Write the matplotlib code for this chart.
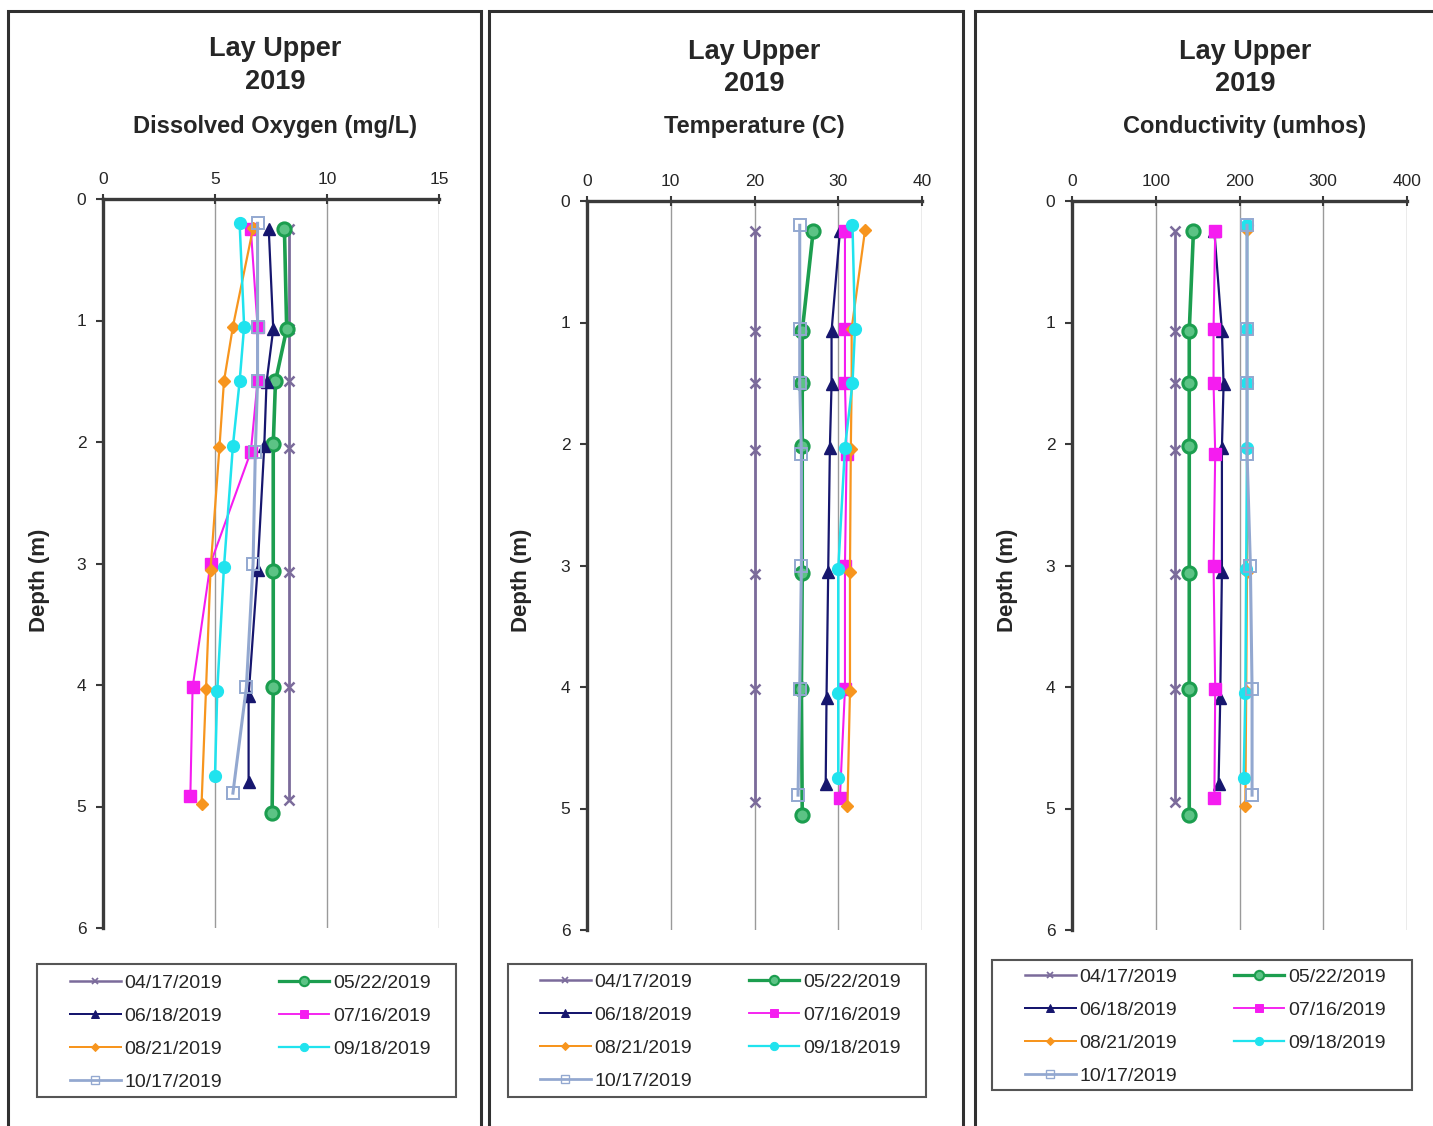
import matplotlib
matplotlib.use("Agg")
import matplotlib.pyplot as plt
from matplotlib.patches import Rectangle
from matplotlib.lines import Line2D

plt.rcParams['font.family'] = ['Liberation Sans', 'DejaVu Sans']

W, H = 1433, 1126

# sampling dates and the depth (m) of each profile reading
dates = ['04/17/2019', '05/22/2019', '06/18/2019', '07/16/2019',
         '08/21/2019', '09/18/2019', '10/17/2019']
depths = [
    [0.25, 1.07, 1.50, 2.05, 3.07, 4.02, 4.95],
    [0.25, 1.07, 1.50, 2.02, 3.06, 4.02, 5.05],
    [0.25, 1.07, 1.51, 2.03, 3.05, 4.09, 4.80],
    [0.25, 1.05, 1.50, 2.08, 3.00, 4.02, 4.91],
    [0.24, 1.05, 1.50, 2.04, 3.05, 4.03, 4.98],
    [0.20, 1.05, 1.50, 2.03, 3.03, 4.05, 4.75],
    [0.20, 1.05, 1.50, 2.08, 3.00, 4.02, 4.89],
]

do_mgl = [
    [8.3, 8.3, 8.3, 8.3, 8.3, 8.3, 8.3],
    [8.1, 8.2, 7.7, 7.6, 7.6, 7.6, 7.55],
    [7.4, 7.6, 7.3, 7.2, 6.9, 6.5, 6.5],
    [6.6, 6.9, 6.9, 6.6, 4.8, 4.0, 3.9],
    [6.7, 5.8, 5.4, 5.2, 4.8, 4.6, 4.4],
    [6.1, 6.3, 6.1, 5.8, 5.4, 5.1, 5.0],
    [6.9, 6.9, 6.9, 6.8, 6.7, 6.4, 5.8],
]
temp_c = [
    [20.0, 20.0, 20.0, 20.0, 20.0, 20.0, 20.0],
    [27.0, 25.7, 25.7, 25.7, 25.7, 25.6, 25.7],
    [30.2, 29.2, 29.2, 29.0, 28.8, 28.6, 28.5],
    [30.8, 30.8, 30.8, 31.0, 30.8, 30.8, 30.2],
    [33.2, 31.6, 31.6, 31.5, 31.4, 31.4, 31.1],
    [31.7, 32.0, 31.7, 30.8, 30.0, 30.0, 30.0],
    [25.4, 25.4, 25.4, 25.6, 25.6, 25.4, 25.2],
]
cond_umhos = [
    [123, 123, 123, 123, 123, 123, 123],
    [145, 140, 140, 140, 140, 140, 140],
    [170, 179, 181, 179, 179, 177, 175],
    [171, 169, 169, 171, 169, 171, 170],
    [209, 209, 209, 209, 209, 208, 207],
    [209, 209, 209, 209, 208, 207, 205],
    [209, 209, 209, 209, 213, 215, 215],
]

# per-date line style
styles = [
    dict(color='#7b6b9b', marker='x', ms=7, mew=1.8, lw=2.0, mfc='#7b6b9b'),
    dict(color='#1c9e4f', marker='o', ms=9.5, mew=2.2, lw=2.6, mfc='#5cc385'),
    dict(color='#16166e', marker='^', ms=9, mew=1.0, lw=1.6, mfc='#16166e'),
    dict(color='#f51cf0', marker='s', ms=8, mew=1.0, lw=1.5, mfc='#f51cf0'),
    dict(color='#f7951e', marker='D', ms=6.5, mew=1.0, lw=1.6, mfc='#f7951e'),
    dict(color='#20e3ee', marker='o', ms=8.5, mew=1.0, lw=1.8, mfc='#20e3ee'),
    dict(color='#93a8d0', marker='s', ms=8, mew=1.4, lw=2.2, mfc='none'),
]

panels = [
    dict(values=do_mgl, xmax=15, xticks=[0, 5, 10, 15],
         sub='Dissolved Oxygen (mg/L)',
         ax_px=(103, 439, 199, 928), frame=(8, 481),
         title_x=275, title_y=(49, 82, 126), ylab_x=40,
         leg_px=(37, 964, 456, 1097), leg_handle=(70, 981)),
    dict(values=temp_c, xmax=40, xticks=[0, 10, 20, 30, 40],
         sub='Temperature (C)',
         ax_px=(587, 922, 201, 930), frame=(489, 963),
         title_x=754, title_y=(52, 84, 127), ylab_x=522,
         leg_px=(508, 964, 926, 1097), leg_handle=(540, 980)),
    dict(values=cond_umhos, xmax=400, xticks=[0, 100, 200, 300, 400],
         sub='Conductivity (umhos)',
         ax_px=(1072, 1407, 201, 930), frame=(975, 1445),
         title_x=1245, title_y=(52, 84, 127), ylab_x=1007,
         leg_px=(992, 960, 1412, 1090), leg_handle=(1025, 975)),
]

fig = plt.figure(figsize=(W / 100, H / 100), dpi=100)

def fx(px):
    return px / W

def fy(py):
    return 1 - py / H

axis_col = '#3a3a3a'
text_col = '#262626'

for p in panels:
    x0, x1, y0, y1 = p['ax_px']
    ax = fig.add_axes([fx(x0), fy(y1), fx(x1 - x0), (y1 - y0) / H])

    for d, vals, st in zip(depths, p['values'], styles):
        ax.plot(vals, d, color=st['color'], lw=st['lw'], marker=st['marker'],
                ms=st['ms'], mew=st['mew'], mfc=st['mfc'], mec=st['color'],
                clip_on=False, zorder=3)

    ax.set_xlim(0, p['xmax'])
    ax.set_ylim(6, 0)
    ax.set_xticks(p['xticks'])
    ax.set_yticks(range(0, 7))
    ax.xaxis.tick_top()
    ax.xaxis.set_label_position('top')
    for side in ('right', 'bottom'):
        ax.spines[side].set_visible(False)
    for side in ('top', 'left'):
        ax.spines[side].set_color(axis_col)
        ax.spines[side].set_linewidth(2.4)
        ax.spines[side].set_zorder(4)
    ax.tick_params(axis='x', direction='inout', length=7, width=1.5,
                   color=axis_col, labelsize=12.5, labelcolor=text_col, pad=5)
    ax.tick_params(axis='y', direction='out', length=5, width=1.5,
                   color=axis_col, labelsize=12.5, labelcolor=text_col, pad=7)
    ax.grid(axis='x', color='#9a9a9a', lw=1.0, zorder=0)
    ax.set_axisbelow(True)

    # titles and the depth label
    tx = fx(p['title_x'])
    ty = p['title_y']
    fig.text(tx, fy(ty[0]), 'Lay Upper', ha='center', va='center',
             fontsize=19.5, fontweight='bold', color=text_col)
    fig.text(tx, fy(ty[1]), '2019', ha='center', va='center',
             fontsize=19.5, fontweight='bold', color=text_col)
    fig.text(tx, fy(ty[2]), p['sub'], ha='center', va='center',
             fontsize=17, fontweight='bold', color=text_col)
    fig.text(fx(p['ylab_x']), fy(580), 'Depth (m)', ha='center', va='center',
             rotation=90, fontsize=16, fontweight='bold', color=text_col)

    # panel frame, open at the bottom edge
    f0, f1 = p['frame']
    fig.add_artist(Rectangle((fx(f0), -0.02), fx(f1 - f0), fy(11) + 0.02,
                             transform=fig.transFigure, fill=False,
                             ec='#303030', lw=2.2))

    # legend box and entries, laid out row by row
    lx0, ly0, lx1, ly1 = p['leg_px']
    fig.add_artist(Rectangle((fx(lx0), fy(ly1)), fx(lx1 - lx0), (ly1 - ly0) / H,
                             transform=fig.transFigure, fill=False,
                             ec='#555555', lw=1.5))
    handles = [Line2D([], [], color=st['color'], lw=st['lw'] * 0.9,
                      marker=st['marker'], ms=st['ms'] * 0.7, mew=st['mew'] * 0.7,
                      mfc=st['mfc'], mec=st['color'])
               for st in styles]
    order = [0, 2, 4, 6, 1, 3, 5]
    hx, hy = p['leg_handle']
    fig.legend([handles[i] for i in order], [dates[i] for i in order],
               ncol=2, loc='upper left', bbox_to_anchor=(fx(hx), fy(hy - 7)),
               frameon=False, fontsize=14, handlelength=2.6,
               handletextpad=0.2, columnspacing=2.9, labelspacing=0.8,
               borderpad=0, borderaxespad=0, numpoints=1,
               labelcolor=text_col)

fig.savefig('out.png', dpi=100)
